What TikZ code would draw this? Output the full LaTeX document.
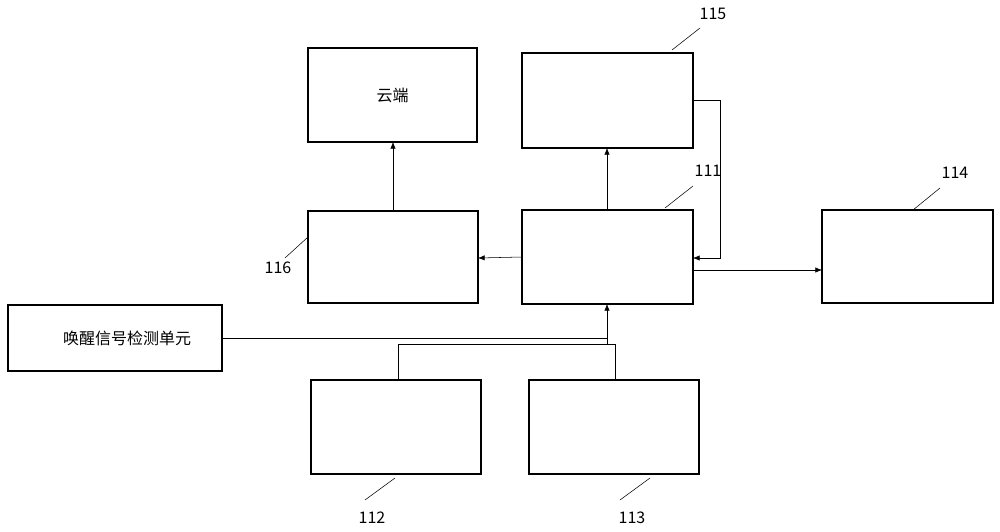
\documentclass[tikz,border=0pt]{standalone}
\usepackage{fontspec}
\setmainfont{Noto Sans CJK SC}
\usetikzlibrary{arrows.meta}

\begin{document}
\begin{tikzpicture}[x=0.75pt, y=-0.75pt, font=\fontsize{12}{14}\selectfont,
    blk/.style={draw, thick},
    conn/.style={-{Latex[length=5pt,width=4pt]}}]
      \useasboundingbox (0,0) rectangle (1000,532);
      % boxes
      \draw[blk] (308,48) rectangle (477,142) node[midway] (cloud) {云端};
      \draw[blk] (522,53) rectangle (693,148);
      \draw[blk] (308,211) rectangle (478,303);
      \draw[blk] (522,210) rectangle (693,304);
      \draw[blk] (822,210) rectangle (993,303);
      \draw[blk] (8,305) rectangle (222,371) node[midway,xshift=9pt] (wake) {唤醒信号检测单元};
      \draw[blk] (311,380) rectangle (481,474);
      \draw[blk] (529,380) rectangle (699,474);
      % connectors
      \draw[conn] (393,211) -- (393,142);
      \draw[conn] (607,210) -- (607,148);
      \draw[conn] (693,100) -- (720,100) -- (720,258) -- (693,258);
      \draw[conn] (522,257) -- (478,258);
      \draw[conn] (693,270) -- (822,270);
      \draw (222,338) -- (607,338);
      \draw (398,380) -- (398,344) -- (615,344) -- (615,380);
      \draw[conn] (607,344) -- (607,304);
      % labels
      \draw (672,50) -- (700,28); \node at (713,14) {115};
      \draw (665,208) -- (693,186); \node at (708,171) {111};
      \draw (913,210) -- (940,188); \node at (955,173) {114};
      \draw (285,258) -- (308,237); \node at (278,268) {116};
      \draw (365,500) -- (395,478); \node at (372,518) {112};
      \draw (620,500) -- (650,478); \node at (632,518) {113};
\end{tikzpicture}
\end{document}
